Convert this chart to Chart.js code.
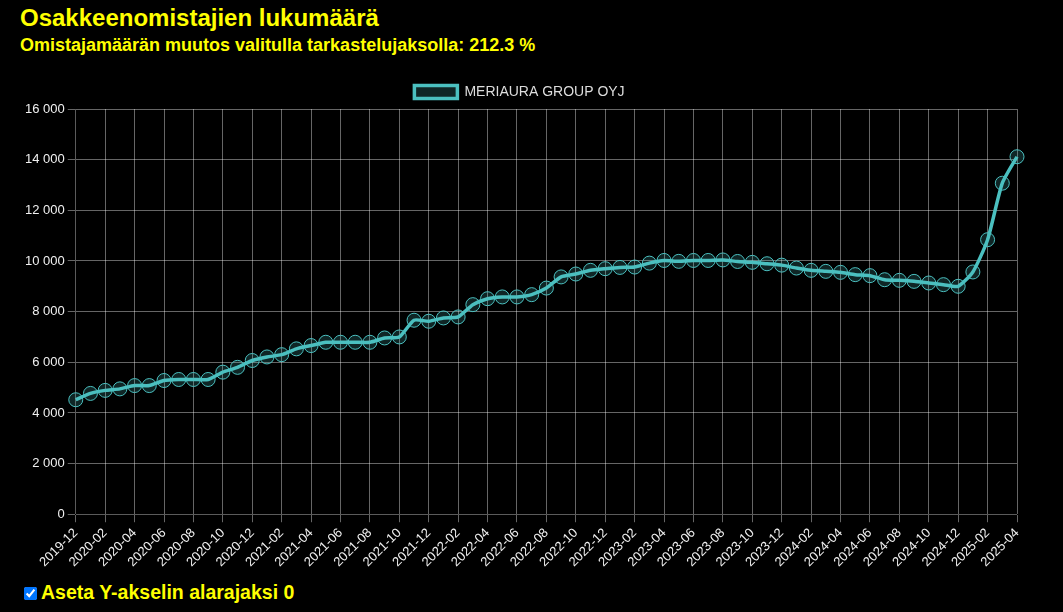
<!DOCTYPE html>
<html>
<head>
<meta charset="utf-8">
<script src="https://cdn.jsdelivr.net/npm/chart.js@4"></script>
<style>
    body { margin: 0; background: #000; font-family: Arial, "Liberation Sans", sans-serif; width: 1063px; height: 612px; overflow: hidden; }
    #title { position: absolute; left: 20px; top: 4px; color: #ffff00; font-size: 24px; font-weight: bold; }
    #subtitle { position: absolute; left: 20px; top: 35px; color: #ffff00; font-size: 18px; font-weight: bold; }
    #charts { position: absolute; left: 0; top: 75px; width: 1063px; height: 500px; }
    #yzero { position: absolute; left: 22px; top: 581px; color: #ffff00; font-size: 19.5px; font-weight: bold; }
    #yzero input { margin: 0 4px 0 2px; vertical-align: -1px; }
</style>
</head>
<body>
<div id="title">Osakkeenomistajien lukumäärä</div>
<div id="subtitle">Omistajamäärän muutos valitulla tarkastelujaksolla: 212.3 %</div>
<div id="charts"><canvas id="omistajat"></canvas></div>
<label id="yzero"><input type="checkbox" checked>Aseta Y-akselin alarajaksi 0</label>
<script>
const companyName = 'MERIAURA GROUP OYJ';

const months = [
    '2019-12',
    '2020-01', '2020-02', '2020-03', '2020-04', '2020-05', '2020-06', '2020-07', '2020-08', '2020-09', '2020-10', '2020-11', '2020-12',
    '2021-01', '2021-02', '2021-03', '2021-04', '2021-05', '2021-06', '2021-07', '2021-08', '2021-09', '2021-10', '2021-11', '2021-12',
    '2022-01', '2022-02', '2022-03', '2022-04', '2022-05', '2022-06', '2022-07', '2022-08', '2022-09', '2022-10', '2022-11', '2022-12',
    '2023-01', '2023-02', '2023-03', '2023-04', '2023-05', '2023-06', '2023-07', '2023-08', '2023-09', '2023-10', '2023-11', '2023-12',
    '2024-01', '2024-02', '2024-03', '2024-04', '2024-05', '2024-06', '2024-07', '2024-08', '2024-09', '2024-10', '2024-11', '2024-12',
    '2025-01', '2025-02', '2025-03', '2025-04'
];

const owners = [
    4520,
    4770, 4890, 4950, 5080, 5080, 5280, 5320, 5320, 5320, 5610, 5800, 6070,
    6210, 6300, 6530, 6660, 6790, 6790, 6790, 6790, 6960, 7000, 7660, 7620,
    7750, 7790, 8275, 8510, 8580, 8580, 8670, 8930, 9370, 9485, 9630, 9695,
    9745, 9760, 9915, 10020, 9985, 10020, 10020, 10040, 9980, 9945, 9890, 9835,
    9720, 9630, 9590, 9550, 9460, 9420, 9260, 9235, 9195, 9130, 9065, 9000,
    9565, 10840, 13070, 14115
];

const yTicks = [0, 2000, 4000, 6000, 8000, 10000, 12000, 14000, 16000];

const fmt = v => String(v).replace(/\B(?=(\d{3})+(?!\d))/g, ' ');
const font = 'Arial, "Liberation Sans", sans-serif';

let ctx = document.getElementById('omistajat').getContext('2d');
let myChart = new Chart(ctx, {
    type: 'line',
    data: {
        labels: months,
        datasets: [{
            label: companyName,
            data: owners,
            borderColor: 'rgb(75, 192, 192)',
            backgroundColor: 'rgba(75, 192, 192, 0.2)',
            borderWidth: 3.5,
            tension: 0.2,
            pointRadius: 7,
            pointBorderWidth: 1,
            pointBackgroundColor: 'rgba(75, 192, 192, 0.2)',
            pointBorderColor: 'rgb(75, 192, 192)',
        }]
    },
    options: {
        responsive: true,
        maintainAspectRatio: false,
        animation: false,
        layout: { padding: { left: 22, right: 46, bottom: 2 } },
        plugins: {
            legend: {
                labels: {
                    color: '#dddddd',
                    font: { family: font, size: 14 },
                    boxWidth: 43,
                    boxHeight: 13,
                }
            },
            tooltip: { enabled: false }
        },
        scales: {
            x: {
                grid: { color: 'rgba(255,255,255,0.4)' },
                ticks: {
                    color: '#f0f0f0',
                    autoSkip: false,
                    maxRotation: 45,
                    minRotation: 45,
                    font: { family: font, size: 13 },
                    callback: function (value, index) {
                        return index % 2 === 0 ? months[index] : null;
                    }
                }
            },
            y: {
                min: yTicks[0],
                max: yTicks[yTicks.length - 1],
                grid: { color: 'rgba(255,255,255,0.4)' },
                ticks: {
                    color: '#f0f0f0',
                    stepSize: 2000,
                    font: { family: font, size: 13 },
                    callback: v => fmt(v)
                }
            }
        }
    }
});
</script>
</body>
</html>
